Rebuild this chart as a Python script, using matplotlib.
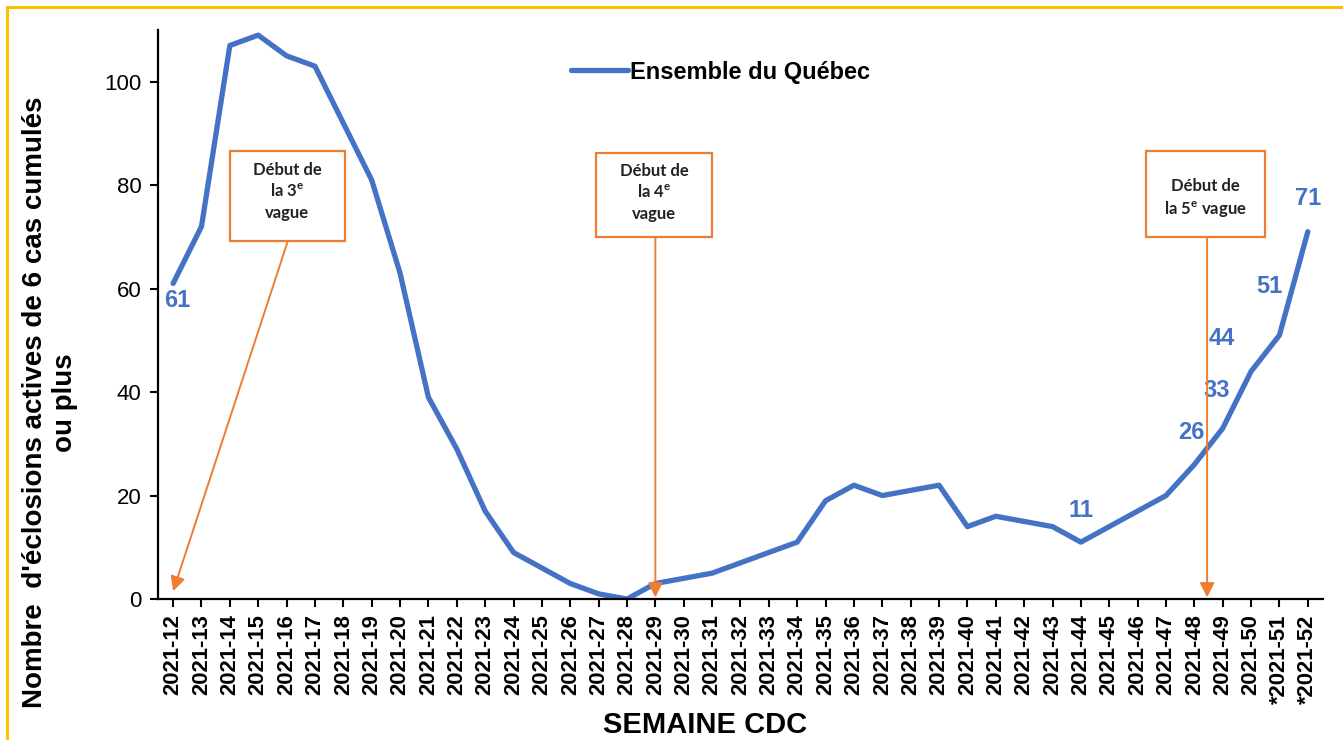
import numpy as np
import matplotlib.pyplot as plt
from matplotlib.patches import Rectangle

# weekly counts, CDC weeks 2021-12 .. 2021-52
weeks = ['2021-12', '2021-13', '2021-14', '2021-15', '2021-16', '2021-17', '2021-18',
         '2021-19', '2021-20', '2021-21', '2021-22', '2021-23', '2021-24', '2021-25',
         '2021-26', '2021-27', '2021-28', '2021-29', '2021-30', '2021-31', '2021-32',
         '2021-33', '2021-34', '2021-35', '2021-36', '2021-37', '2021-38', '2021-39',
         '2021-40', '2021-41', '2021-42', '2021-43', '2021-44', '2021-45', '2021-46',
         '2021-47', '2021-48', '2021-49', '2021-50', '*2021-51', '*2021-52']
eclosions = [61, 72, 107, 109, 105, 103, 92, 81, 63, 39, 29, 17, 9, 6, 3, 1, 0,
             3, 4, 5, 7, 9, 11, 19, 22, 20, 21, 22, 14, 16, 15, 14, 11, 14, 17,
             20, 26, 33, 44, 51, 71]

# which points get a value label, and where (offset in points)
label_idx = [0, 32, 36, 37, 38, 39, 40]
label_off = [(3, -12), (0, 23), (-2, 23), (-4, 27), (-21, 24), (-7, 35), (0, 24)]

# wave annotations: text, box (x0, x1, y0, y1), text top, arrow start, arrow end
waves = [
    ('Début de\nla 3$^{\\mathregular{e}}$\nvague', (2.0, 6.06, 69.3, 86.7), 84.5, (4.05, 69.3), (0.0, 1.5)),
    ('Début de\nla 4$^{\\mathregular{e}}$\nvague', (14.9, 19.0, 69.9, 86.3), 84.3, (17.0, 69.9), (17.0, 0.3)),
    ('Début de\nla 5$^{\\mathregular{e}}$ vague', (34.3, 38.5, 69.9, 86.7), 81.3, (36.45, 69.9), (36.45, 0.3)),
]

blue = '#4472C4'
orange = '#ED7D31'

plt.rcParams['font.family'] = ['Liberation Sans', 'DejaVu Sans']

fig = plt.figure(figsize=(13.43, 7.4), dpi=100)
ax = fig.add_axes([0.1177, 0.1905, 0.8673, 0.769])

x = np.arange(len(weeks))
ax.plot(x, eclosions, color=blue, lw=3.8, solid_capstyle='round',
        solid_joinstyle='round', label='Ensemble du Québec')

for i, (dx, dy) in zip(label_idx, label_off):
    ax.annotate(str(eclosions[i]), (x[i], eclosions[i]), xytext=(dx, dy),
                textcoords='offset points', ha='center', va='center',
                fontsize=17, fontweight='bold', color=blue)

for txt, (x0, x1, y0, y1), ty, start, end in waves:
    ax.add_patch(Rectangle((x0, y0), x1 - x0, y1 - y0, facecolor='white',
                           edgecolor=orange, lw=1.6, zorder=4))
    ax.text((x0 + x1) / 2, ty, txt, ha='center', va='top', fontsize=12,
            fontweight='bold', family=['Lato', 'DejaVu Sans'], color='#222222',
            linespacing=1.35, zorder=5)
    ax.annotate('', xy=end, xytext=start,
                arrowprops=dict(arrowstyle='-|>', color=orange, lw=1.4,
                                mutation_scale=22, shrinkA=0, shrinkB=0),
                zorder=3)

ax.set_xlim(-0.53, 40.53)
ax.set_ylim(0, 110)
ax.set_xticks(x)
ax.set_xticklabels(weeks, rotation=90, fontsize=15.8, fontweight='bold')
ax.set_yticks([0, 20, 40, 60, 80, 100])
ax.tick_params(axis='y', labelsize=16, length=6, width=1.5, pad=6)
ax.tick_params(axis='x', length=6, width=1.5, pad=5)
for s in ['top', 'right']:
    ax.spines[s].set_visible(False)
for s in ['left', 'bottom']:
    ax.spines[s].set_linewidth(1.6)

ax.set_xlabel('SEMAINE CDC', fontsize=21, fontweight='bold')
ax.xaxis.set_label_coords(0.4695, -0.197)
ax.set_ylabel("Nombre  d'éclosions actives de 6 cas cumulés\nou plus",
              fontsize=20, fontweight='bold', va='center', ha='center')
ax.yaxis.set_label_coords(-0.093, 0.345)

ax.legend(loc='center', bbox_to_anchor=(0.483, 0.926), frameon=False,
          prop={'size': 17, 'weight': 'bold'}, handlelength=2.4,
          handletextpad=0.1)

# yellow frame around the whole graphic
fig.patches.append(Rectangle((0.0052, -0.1), 1.2, 1.0905, transform=fig.transFigure,
                             fill=False, edgecolor='#FFC000', lw=2.2))

fig.savefig('out.png', dpi=100)
